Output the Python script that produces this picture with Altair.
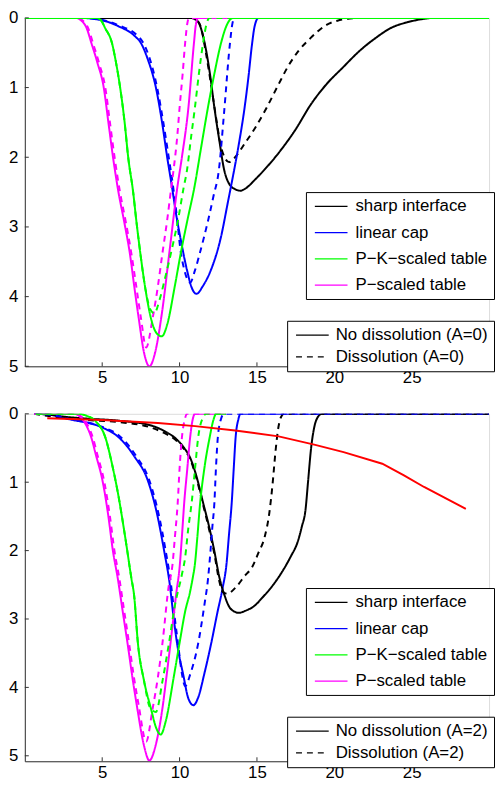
import altair as alt
import pandas as pd

FONT = "Liberation Sans"

MODELS = ["sharp interface", "linear cap", "P\u2212K\u2212scaled table", "P\u2212scaled table"]
MODEL_COLORS = ["#000000", "#0000ff", "#00ff00", "#ff00ff"]
TOP_CASES = ["No dissolution (A=0)", "Dissolution (A=0)"]
BOT_CASES = ["No dissolution (A=2)", "Dissolution (A=2)"]
X_TICKS = [5, 10, 15, 20, 25]
Y_TICKS = [0, 1, 2, 3, 4, 5]
X_DOMAIN = [0, 30]
TOP_YMAX = 5.0
BOT_YMAX = 5.08

# ---------------- top panel (A=0) ----------------
top_sharp_solid = [(0, 0), (10.7, 0), (11.0, 0.02), (11.3, 0.1), (11.62, 0.36), (11.98, 0.83), (12.25, 1.29),
                   (12.57, 1.76), (12.88, 2.18), (13.2, 2.38), (13.6, 2.46), (13.94, 2.48), (14.25, 2.45),
                   (14.88, 2.32), (15.6, 2.15), (16.36, 1.95), (17.5, 1.6), (18.46, 1.25), (19.5, 0.95),
                   (20.56, 0.71), (21.6, 0.48), (22.66, 0.29), (23.7, 0.14), (24.77, 0.06), (25.6, 0.02),
                   (26.45, 0), (30, 0)]
top_sharp_diss = [(0, 0), (10.8, 0), (11.1, 0.03), (11.4, 0.15), (11.7, 0.5), (12.05, 0.98), (12.35, 1.42),
                  (12.65, 1.82), (12.95, 2.02), (13.2, 2.07), (13.5, 2.02), (14.25, 1.79), (14.88, 1.58),
                  (15.6, 1.3), (16.36, 0.97), (17.0, 0.7), (17.7, 0.47), (18.46, 0.29), (19.0, 0.18),
                  (19.5, 0.1), (20.2, 0.04), (21.0, 0.01), (22.0, 0), (30, 0)]
top_linear_solid = [(0, 0), (3.5, 0), (4.9, 0.03), (6.05, 0.12), (7.1, 0.26), (7.5, 0.36), (7.94, 0.59),
                    (8.47, 1.0), (8.89, 1.53), (9.2, 2.0), (9.52, 2.44), (9.8, 2.85), (10.04, 3.14),
                    (10.47, 3.61), (10.8, 3.88), (11.1, 3.96), (11.5, 3.85), (12.04, 3.61), (12.68, 3.14),
                    (13.1, 2.67), (13.4, 2.33), (13.8, 1.85), (14.2, 1.29), (14.45, 0.85), (14.67, 0.4),
                    (14.85, 0.12), (15.1, 0), (30, 0)]
top_linear_diss = [(0, 0), (3.6, 0), (5.0, 0.03), (6.1, 0.11), (7.2, 0.24), (7.6, 0.34), (8.05, 0.57),
                   (8.55, 1.0), (8.95, 1.5), (9.3, 2.0), (9.6, 2.45), (9.85, 2.9), (10.04, 3.3), (10.3, 3.61),
                   (10.5, 3.75), (10.68, 3.8), (11.0, 3.62), (11.31, 3.375), (11.84, 2.91), (12.2, 2.55),
                   (12.53, 2.2), (12.88, 1.35), (13.24, 0.4), (13.4, 0.1), (13.55, 0), (30, 0)]
top_pk_solid = [(0, 0), (4.6, 0), (4.9, 0.03), (5.2, 0.15), (5.63, 0.36), (5.9, 0.65), (6.16, 1.0),
                (6.45, 1.5), (6.68, 2.0), (7.0, 2.5), (7.2, 2.9), (7.42, 3.3), (7.8, 3.9), (8.15, 4.31),
                (8.5, 4.52), (8.85, 4.57), (9.2, 4.4), (9.7, 3.84), (10.1, 3.35), (10.5, 2.91),
                (10.95, 2.44), (11.4, 1.85), (11.83, 1.29), (12.25, 0.8), (12.68, 0.36), (13.1, 0.08),
                (13.45, 0), (30, 0)]
top_pk_diss = [(0, 0), (4.6, 0), (4.9, 0.03), (5.2, 0.15), (5.63, 0.36), (5.9, 0.65), (6.16, 1.0),
               (6.45, 1.5), (6.68, 2.0), (7.0, 2.5), (7.2, 2.9), (7.42, 3.3), (7.8, 3.9), (8.1, 4.18),
               (8.37, 4.24), (8.7, 4.05), (9.1, 3.7), (9.52, 3.3), (9.9, 2.9), (10.26, 2.44), (10.47, 2.2),
               (10.75, 1.7), (10.99, 1.29), (11.25, 0.8), (11.52, 0.36), (11.75, 0.08), (11.94, 0), (30, 0)]
top_p_solid = [(0, 0), (3.3, 0), (3.6, 0.03), (4.0, 0.15), (4.3, 0.36), (4.7, 0.65), (5.1, 1.0), (5.4, 1.5),
               (5.7, 2.0), (6.05, 2.5), (6.4, 2.9), (6.8, 3.4), (7.1, 3.9), (7.36, 4.31), (7.7, 4.8),
               (8.05, 5.0), (8.4, 4.82), (8.85, 4.25), (9.35, 3.35), (9.85, 2.44), (10.15, 2.0),
               (10.57, 1.29), (10.93, 0.36), (11.05, 0.1), (11.2, 0), (30, 0)]
top_p_diss = [(0, 0), (3.4, 0), (3.7, 0.03), (4.1, 0.15), (4.4, 0.36), (4.8, 0.65), (5.2, 1.0), (5.5, 1.5),
              (5.8, 2.0), (6.15, 2.5), (6.5, 2.9), (6.9, 3.4), (7.2, 3.85), (7.5, 4.3), (7.84, 4.73),
              (8.26, 4.31), (8.6, 3.85), (8.89, 3.38), (9.2, 2.9), (9.46, 2.44), (9.63, 2.15), (9.85, 1.7),
              (10.0, 1.29), (10.2, 0.8), (10.36, 0.36), (10.5, 0.08), (10.6, 0), (30, 0)]

# ---------------- bottom panel (A=2) ----------------
bot_sharp_solid = [(0.6, 0), (1.5, 0.01), (2.47, 0.04), (4.0, 0.07), (6.05, 0.1), (8.15, 0.17), (9.0, 0.25),
                   (9.84, 0.38), (10.3, 0.5), (10.68, 0.64), (11.1, 0.92), (11.52, 1.3), (11.94, 1.68),
                   (12.25, 2.01), (12.57, 2.39), (12.9, 2.65), (13.3, 2.85), (13.83, 2.91), (14.25, 2.88),
                   (14.88, 2.8), (15.3, 2.7), (16.15, 2.47), (16.57, 2.33), (17.2, 2.08), (17.62, 1.88),
                   (17.9, 1.65), (18.14, 1.4), (18.3, 1.0), (18.5, 0.5), (18.7, 0.2), (18.9, 0.06),
                   (19.2, 0), (30, 0)]
bot_sharp_diss = [(0.6, 0), (2.47, 0.06), (4.0, 0.09), (6.05, 0.12), (8.15, 0.2), (9.0, 0.28), (9.84, 0.4),
                  (10.3, 0.52), (10.68, 0.66), (11.1, 0.95), (11.52, 1.33), (11.94, 1.72), (12.25, 2.05),
                  (12.57, 2.45), (12.78, 2.6), (13.1, 2.63), (13.62, 2.54), (14.25, 2.36), (14.67, 2.25),
                  (15.1, 2.03), (15.5, 1.8), (15.8, 1.45), (16.0, 1.05), (16.2, 0.55), (16.35, 0.25),
                  (16.55, 0.05), (16.75, 0), (30, 0)]
bot_linear_solid = [(0.6, 0), (1.5, 0.01), (2.9, 0.08), (5.0, 0.2), (6.05, 0.34), (7.1, 0.63), (7.94, 0.97),
                    (8.57, 1.49), (9.0, 2.0), (9.37, 2.5), (9.6, 2.95), (9.84, 3.36), (10.26, 3.84),
                    (10.55, 4.15), (10.89, 4.26), (11.2, 4.15), (11.6, 3.8), (12.04, 3.36), (12.45, 2.9),
                    (12.78, 2.55), (13.03, 2.2), (13.2, 1.75), (13.37, 1.3), (13.5, 0.8), (13.62, 0.35),
                    (13.8, 0.08), (13.94, 0), (30, 0)]
bot_linear_diss = [(0.6, 0), (1.5, 0.01), (3.0, 0.08), (5.1, 0.2), (6.15, 0.33), (7.2, 0.62), (8.04, 0.97),
                   (8.67, 1.49), (9.1, 2.0), (9.45, 2.5), (9.7, 3.0), (9.95, 3.45), (10.15, 3.8),
                   (10.36, 3.98), (10.7, 3.8), (11.2, 3.36), (11.6, 2.8), (11.84, 2.41), (12.0, 2.0),
                   (12.12, 1.65), (12.25, 1.3), (12.35, 0.8), (12.47, 0.35), (12.7, 0.06), (12.88, 0), (30, 0)]
bot_pk_solid = [(0.7, 0), (3.5, 0), (4.0, 0.03), (4.58, 0.11), (5.21, 0.35), (5.63, 0.73), (6.05, 1.2),
                (6.47, 1.78), (6.89, 2.41), (7.06, 2.65), (7.31, 3.36), (7.7, 3.9), (8.15, 4.31),
                (8.5, 4.6), (8.78, 4.69), (9.1, 4.5), (9.63, 3.84), (10.0, 3.35), (10.36, 2.89),
                (10.68, 2.6), (10.85, 2.4), (10.99, 2.2), (11.15, 1.8), (11.31, 1.35), (11.6, 0.8),
                (11.94, 0.35), (12.2, 0.08), (12.36, 0), (13, 0)]
bot_pk_diss = [(0.7, 0), (3.5, 0), (4.0, 0.03), (4.58, 0.11), (5.21, 0.35), (5.63, 0.73), (6.05, 1.2),
               (6.47, 1.78), (6.89, 2.41), (7.06, 2.65), (7.31, 3.36), (7.7, 3.9), (8.1, 4.3), (8.47, 4.36),
               (8.9, 3.9), (9.31, 3.36), (9.7, 2.8), (10.15, 2.35), (10.36, 2.1), (10.55, 1.7),
               (10.78, 1.3), (11.0, 0.8), (11.2, 0.35), (11.5, 0.06), (11.73, 0), (13, 0)]
bot_p_solid = [(0.6, 0), (3.2, 0), (3.6, 0.05), (3.95, 0.16), (4.3, 0.35), (4.58, 0.59), (5.04, 1.0),
               (5.4, 1.5), (5.69, 2.0), (6.01, 2.41), (6.3, 2.85), (6.64, 3.36), (6.95, 3.85), (7.27, 4.31),
               (7.7, 4.85), (8.05, 5.07), (8.45, 4.85), (8.89, 4.31), (9.15, 3.85), (9.41, 3.36),
               (9.8, 2.6), (10.0, 2.25), (10.15, 1.8), (10.3, 1.3), (10.5, 0.8), (10.68, 0.35),
               (10.85, 0.08), (11.0, 0), (13, 0)]
bot_p_diss = [(0.6, 0), (3.3, 0), (3.7, 0.05), (4.05, 0.16), (4.4, 0.35), (4.68, 0.59), (5.14, 1.0),
              (5.5, 1.5), (5.79, 2.0), (6.11, 2.41), (6.4, 2.85), (6.74, 3.36), (7.05, 3.85), (7.35, 4.25),
              (7.84, 4.79), (8.26, 4.31), (8.6, 3.85), (8.89, 3.36), (9.31, 2.5), (9.52, 2.25), (9.7, 1.8),
              (9.88, 1.3), (10.0, 0.8), (10.15, 0.35), (10.35, 0.07), (10.47, 0), (13, 0)]
bot_red = [(1.45, 0.066), (5.0, 0.09), (8.6, 0.135), (11.0, 0.18), (13.6, 0.245), (16.4, 0.33), (18.7, 0.45),
           (20.6, 0.56), (23.1, 0.73), (24.5, 0.9), (25.8, 1.07), (28.5, 1.39)]

PLOT_W = 469
TOP_H = 352
BOT_H = 351


def frame(points, model=None, case=None):
    d = pd.DataFrame({"x": [p[0] for p in points], "y": [p[1] for p in points]})
    d["i"] = range(len(d))
    if model is not None:
        d["model"] = model
        d["case"] = case
    return d


AXIS_COMMON = dict(grid=False, ticks=False, title=None, labelFont=FONT, labelFontSize=17,
                   labelColor="black", domainColor="#333333", domainWidth=1, labelOverlap=False)

LINE_SYMBOL = "M-1,0H5"   # flat legend line, 33px long when r = 5.5


def panel(series, cases, ymax, h, red=None):
    xs = alt.Scale(domain=X_DOMAIN, nice=False, zero=False)
    ys = alt.Scale(domain=[0, ymax], reverse=True, nice=False, zero=False)
    xaxis = alt.Axis(values=X_TICKS, labelPadding=3, **AXIS_COMMON)
    yaxis = alt.Axis(values=Y_TICKS, labelPadding=7, **AXIS_COMMON)
    color = alt.Color("model:N", scale=alt.Scale(domain=MODELS, range=MODEL_COLORS),
                      legend=alt.Legend(title=None, orient="none", legendX=284, legendY=176,
                                        symbolType=LINE_SYMBOL, symbolSize=121, symbolStrokeWidth=1.2,
                                        labelFont=FONT, labelFontSize=17, labelColor="black",
                                        strokeColor="black", fillColor="white", padding=6,
                                        rowPadding=8.5, labelOffset=27, symbolOffset=0))
    dash = alt.StrokeDash("case:N", scale=alt.Scale(domain=cases, range=[[1, 0], [6, 5]]),
                          legend=alt.Legend(title=None, orient="none", legendX=265, legendY=306,
                                            symbolType=LINE_SYMBOL, symbolSize=121, symbolStrokeWidth=1.2,
                                            symbolStrokeColor="black",
                                            labelFont=FONT, labelFontSize=17, labelColor="black",
                                            strokeColor="black", fillColor="white", padding=6,
                                            rowPadding=4, labelOffset=26, symbolOffset=0))
    layers = []
    for pts, model, case in series:
        layers.append(
            alt.Chart(frame(pts, model, case)).mark_line(strokeWidth=2, clip=True,
                                                         interpolate="monotone").encode(
                x=alt.X("x:Q", scale=xs, axis=xaxis),
                y=alt.Y("y:Q", scale=ys, axis=yaxis),
                color=color, strokeDash=dash, order=alt.Order("i:Q"))
        )
    if red is not None:
        layers.append(
            alt.Chart(frame(red)).mark_line(strokeWidth=2, color="#ff0000", clip=True).encode(
                x=alt.X("x:Q", scale=xs, axis=xaxis),
                y=alt.Y("y:Q", scale=ys, axis=yaxis),
                order=alt.Order("i:Q"))
        )
    yt = alt.Chart(pd.DataFrame({"y": Y_TICKS})).mark_rule(color="#333333", strokeWidth=1).encode(
        y=alt.Y("y:Q", scale=ys, axis=yaxis), x=alt.value(0), x2=alt.value(4))
    xt = alt.Chart(pd.DataFrame({"x": X_TICKS})).mark_rule(color="#333333", strokeWidth=1).encode(
        x=alt.X("x:Q", scale=xs, axis=xaxis), y=alt.value(h), y2=alt.value(h - 4))
    layers += [yt, xt]
    return alt.layer(*layers).properties(width=PLOT_W, height=h)


top_series = [
    (top_sharp_solid, MODELS[0], TOP_CASES[0]), (top_sharp_diss, MODELS[0], TOP_CASES[1]),
    (top_linear_solid, MODELS[1], TOP_CASES[0]), (top_linear_diss, MODELS[1], TOP_CASES[1]),
    (top_p_solid, MODELS[3], TOP_CASES[0]), (top_p_diss, MODELS[3], TOP_CASES[1]),
    (top_pk_diss, MODELS[2], TOP_CASES[1]), (top_pk_solid, MODELS[2], TOP_CASES[0]),
]
bot_series = [
    (bot_linear_solid, MODELS[1], BOT_CASES[0]),
    (bot_sharp_solid, MODELS[0], BOT_CASES[0]), (bot_sharp_diss, MODELS[0], BOT_CASES[1]),
    (bot_linear_diss, MODELS[1], BOT_CASES[1]),
    (bot_p_solid, MODELS[3], BOT_CASES[0]), (bot_p_diss, MODELS[3], BOT_CASES[1]),
    (bot_pk_diss, MODELS[2], BOT_CASES[1]), (bot_pk_solid, MODELS[2], BOT_CASES[0]),
]

top = panel(top_series, TOP_CASES, TOP_YMAX, TOP_H)
bottom = panel(bot_series, BOT_CASES, BOT_YMAX, BOT_H, red=bot_red)

chart = alt.vconcat(top, bottom, spacing=18).resolve_scale(
    x="independent", y="independent", color="independent", strokeDash="independent"
).properties(
    padding={"left": 0, "top": -4, "right": 0, "bottom": 0},
    autosize=alt.AutoSizeParams(type="pad")
).configure_view(stroke=None).configure(background="white")

chart.save("out.html", embed_options={"renderer": "svg", "actions": False})
